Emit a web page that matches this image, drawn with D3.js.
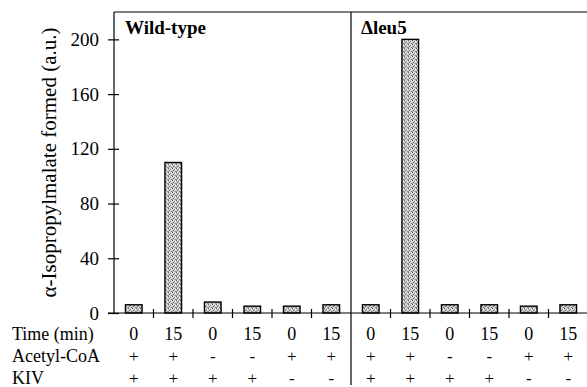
<!DOCTYPE html>
<html><head><meta charset="utf-8">
<script src="https://cdn.jsdelivr.net/npm/d3@7"></script>
</head><body style="margin:0">
<svg id="c" width="587" height="387" style="display:block"></svg>
<script>
const panels = ["Wild-type", "Δleu5"];
const timeLabels = ["0", "15", "0", "15", "0", "15"];
const acetylCoA = ["+", "+", "-", "-", "+", "+"];
const kiv = ["+", "+", "+", "+", "-", "-"];
const wildTypeValues = [6, 110, 8, 5, 5, 6];
const leu5Values = [6, 200, 6, 6, 5, 6];
const yTicks = [0, 40, 80, 120, 160, 200];
const rowLabels = ["Time (min)", "Acetyl-CoA", "KIV"];

const svg = d3.select("#c");
const FONT = '"Liberation Serif"';

const data = [];
[wildTypeValues, leu5Values].forEach((vals, p) => {
  vals.forEach((v, i) => data.push({ idx: p * 6 + i, v, t: timeLabels[i], a: acetylCoA[i], k: kiv[i] }));
});

const x = d3.scaleBand().domain(d3.range(12)).range([114, 588]).paddingInner(0.58).paddingOuter(0.29);
const y = d3.scaleLinear().domain([0, 220]).range([313, 12]);

// text first (as in a plain page)
panels.forEach((p, i) => {
  svg.append("text").attr("x", i === 0 ? 125 : 361).attr("y", 34).text(p)
    .style("font-family", FONT).attr("font-size", 19).attr("font-weight", "bold");
});
svg.append("text").attr("transform", `translate(56,${(22 + 303) / 2}) rotate(-90)`)
  .attr("text-anchor", "middle").style("font-family", FONT).attr("font-size", 21)
  .text("α-Isopropylmalate formed (a.u.)");
const rowY = [340, 362, 384];
rowLabels.forEach((r, i) => {
  svg.append("text").attr("x", 12).attr("y", rowY[i]).text(r).style("font-family", FONT).attr("font-size", 18);
});
const fields = ["t", "a", "k"];
fields.forEach((f, ri) => {
  svg.selectAll("text.r" + ri).data(data).join("text").attr("class", "r" + ri)
    .attr("x", d => x(d.idx) + x.bandwidth() / 2).attr("y", rowY[ri])
    .attr("text-anchor", "middle").style("font-family", FONT).attr("font-size", ri === 0 ? 18 : 17)
    .text(d => d[f]);
});

// stipple pattern
const defs = svg.append("defs");
const pat = defs.append("pattern").attr("id", "stip").attr("patternUnits", "userSpaceOnUse")
  .attr("width", 4).attr("height", 4);
pat.append("rect").attr("width", 4).attr("height", 4).attr("fill", "#d0d0d0");
[[0,0,"#555"],[2,1,"#777"],[1,2,"#666"],[3,3,"#888"],[3,1,"#fff"],[1,0,"#eee"],[0,3,"#999"]].forEach(([px,py,c]) =>
  pat.append("rect").attr("x", px).attr("y", py).attr("width", 1).attr("height", 1).attr("fill", c));

// bars
svg.selectAll("rect.bar").data(data).join("rect").attr("class", "bar")
  .attr("x", d => x(d.idx)).attr("width", x.bandwidth())
  .attr("y", d => y(d.v)).attr("height", d => y(0) - y(d.v))
  .attr("fill", "url(#stip)").attr("stroke", "#000").attr("stroke-width", 1.4);

const x0 = 114, xEnd = 587, step = x.step();
svg.append("line").attr("x1", x0).attr("x2", xEnd).attr("y1", y(220)).attr("y2", y(220)).attr("stroke", "#000").attr("stroke-width", 1.2);

// y axis
const yAxis = d3.axisLeft(y).tickValues(yTicks).tickSizeInner(6).tickSizeOuter(0).tickPadding(10).tickFormat(d3.format("d"));
const gy = svg.append("g").attr("transform", `translate(${x0},0)`).call(yAxis);
gy.attr("font-family", null).attr("font-size", null);
gy.select(".domain").attr("stroke", "#000").attr("stroke-width", 1.2).attr("d", `M0,${y(220)}V${y(0)}`);
gy.selectAll(".tick line").attr("x1", -6).attr("x2", 5).attr("stroke-width", 1.2);
gy.selectAll(".tick text").style("font-family", FONT).attr("font-size", 19).attr("fill", "#000").attr("x", -15);

// baseline and category ticks
svg.append("line").attr("x1", 108).attr("x2", xEnd).attr("y1", y(0)).attr("y2", y(0)).attr("stroke", "#000").attr("stroke-width", 1.2);
const bounds = [1, 2, 3, 4, 5, 7, 8, 9, 10, 11];
svg.selectAll("line.ct").data(bounds).join("line").attr("class", "ct")
  .attr("x1", d => x0 + d * step).attr("x2", d => x0 + d * step)
  .attr("y1", y(0) - 4).attr("y2", y(0) + 5).attr("stroke", "#000").attr("stroke-width", 1.2);

// divider
svg.append("line").attr("x1", x0 + 6 * step).attr("x2", x0 + 6 * step).attr("y1", y(220)).attr("y2", 385)
  .attr("stroke", "#000").attr("stroke-width", 1.2);
</script>
</body></html>
